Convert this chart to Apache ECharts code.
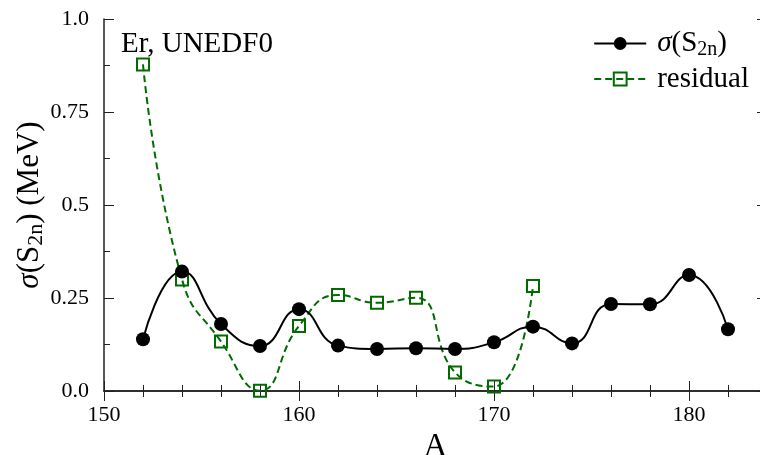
<!DOCTYPE html>
<html>
<head>
<meta charset="utf-8">
<script src="https://cdn.jsdelivr.net/npm/echarts@6/dist/echarts.min.js"></script>
<style>
  html, body { margin: 0; padding: 0; background: #fff; }
  #chart { width: 760px; height: 455px; }
</style>
</head>
<body>
<div id="chart"></div>
<script>
// mass numbers
const massA = [152, 154, 156, 158, 160, 162, 164, 166, 168, 170, 172, 174, 176, 178, 180, 182];
// sigma(S2n) values (MeV)
const sigmaS2n = [0.139, 0.321, 0.180, 0.121, 0.220, 0.122, 0.113, 0.115, 0.113, 0.131, 0.173, 0.128, 0.234, 0.233, 0.312, 0.166];
// residual, only up to A=172
const residualA = [152, 154, 156, 158, 160, 162, 164, 166, 168, 170, 172];
const residual = [0.878, 0.300, 0.133, 0.001, 0.175, 0.258, 0.237, 0.251, 0.050, 0.012, 0.282];
// y tick labels
const yTickLabels = { 0: "0.0", 0.25: "0.25", 0.5: "0.5", 0.75: "0.75", 1: "1.0" };

const font = "'Liberation Serif', 'DejaVu Serif', serif";
const green = "#006b00";

const chart = echarts.init(document.getElementById("chart"));

const xBase = {
  type: "value",
  min: 150,
  max: 184,
  interval: 10,
  axisLine: { lineStyle: { color: "#222", width: 1.5 } },
  axisTick: { inside: true, length: 10, lineStyle: { color: "#222", width: 1 } },
  minorTick: { show: true, splitNumber: 5, length: 6, lineStyle: { color: "#222", width: 1 } },
  splitLine: { show: false },
  minorSplitLine: { show: false }
};
const yBase = {
  type: "value",
  min: 0,
  max: 1,
  interval: 0.25,
  axisLine: { show: true, lineStyle: { color: "#222", width: 1.5 } },
  axisTick: { show: true, inside: true, length: 10, lineStyle: { color: "#222", width: 1 } },
  minorTick: { show: true, splitNumber: 2, length: 6, lineStyle: { color: "#222", width: 1 } },
  splitLine: { show: false },
  minorSplitLine: { show: false }
};

const option = {
  animation: false,
  textStyle: { fontFamily: font },
  grid: { left: 104, top: 19, width: 663, height: 372, containLabel: false, outerBoundsMode: "none" },
  title: {
    text: "Er, UNEDF0",
    left: 116,
    top: 25,
    textStyle: { fontFamily: font, fontSize: 29, fontWeight: "normal", color: "#000" }
  },
  legend: {
    orient: "vertical",
    right: 6,
    top: 24,
    itemWidth: 52,
    itemHeight: 16,
    itemGap: 5,
    data: ["sigma", "residual"],
    formatter: function (name) {
      return name === "sigma" ? "{i|σ}(S{s|2n})" : "residual";
    },
    textStyle: {
      fontFamily: font,
      fontSize: 29,
      color: "#000",
      padding: [0, 0, 0, 6],
      rich: {
        i: { fontFamily: font, fontSize: 29, fontStyle: "italic" },
        s: { fontFamily: font, fontSize: 20, verticalAlign: "bottom", padding: [12, 0, 0, 0] }
      }
    }
  },
  xAxis: [
    Object.assign({}, xBase, {
      position: "bottom",
      name: "A",
      nameLocation: "middle",
      nameGap: 30,
      nameTextStyle: { fontFamily: font, fontSize: 33, color: "#000" },
      axisLabel: { fontFamily: font, fontSize: 22, color: "#000", margin: 13, showMaxLabel: false }
    }),
    Object.assign({}, xBase, { position: "top", axisLabel: { show: false } })
  ],
  yAxis: [
    Object.assign({}, yBase, {
      position: "left",
      name: "{i|σ}(S{s|2n}) (MeV)",
      nameLocation: "middle",
      nameGap: 57,
      nameMoveOverlap: false,
      nameTextStyle: {
        fontFamily: font,
        fontSize: 31,
        color: "#000",
        rich: {
          i: { fontFamily: font, fontSize: 31, fontStyle: "italic" },
          s: { fontFamily: font, fontSize: 22, verticalAlign: "bottom", padding: [13, 0, 0, 0] }
        }
      },
      axisLabel: {
        fontFamily: font,
        fontSize: 22,
        color: "#000",
        margin: 15,
        formatter: function (v) { return yTickLabels[v] !== undefined ? yTickLabels[v] : ""; }
      }
    }),
    Object.assign({}, yBase, { position: "right", axisLabel: { show: false } })
  ],
  series: [
    {
      name: "sigma",
      type: "line",
      xAxisIndex: 0,
      yAxisIndex: 0,
      data: massA.map((a, i) => [a, sigmaS2n[i]]),
      smooth: 0.5,
      symbol: "circle",
      symbolSize: 14,
      itemStyle: { color: "#000" },
      lineStyle: { color: "#000", width: 2 },
      z: 3
    },
    {
      name: "residual",
      type: "line",
      xAxisIndex: 0,
      yAxisIndex: 0,
      data: residualA.map((a, i) => [a, residual[i]]),
      smooth: 0.5,
      symbol: "rect",
      symbolSize: 12,
      itemStyle: { color: "rgba(0,0,0,0)", borderColor: green, borderWidth: 2 },
      lineStyle: { color: green, width: 2, type: [7, 4] },
      clip: false,
      z: 2
    }
  ]
};

chart.setOption(option);
</script>
</body>
</html>
